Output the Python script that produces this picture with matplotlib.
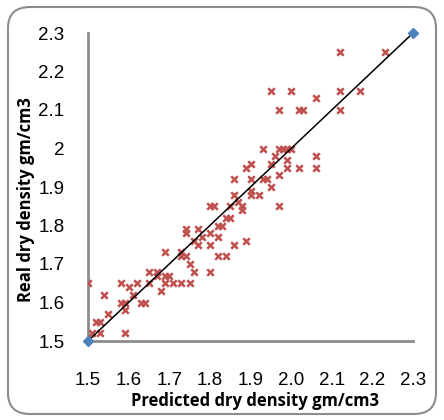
import matplotlib
matplotlib.use("Agg")
import matplotlib.pyplot as plt
from matplotlib.patches import FancyBboxPatch

# Predicted vs. real dry density samples
predicted = [
    1.50, 1.54, 1.58, 1.60, 1.62, 1.61, 1.58, 1.59, 1.63, 1.64,
    1.59, 1.55, 1.52, 1.53, 1.51, 1.53, 1.59, 1.65, 1.65, 1.67,
    1.67, 1.69, 1.70, 1.69, 1.71, 1.73, 1.75, 1.68, 1.69, 1.73,
    1.73, 1.74, 1.82, 1.84, 1.75, 1.76, 1.80, 1.74, 1.74, 1.77,
    1.80, 1.78, 1.76, 1.77, 1.80, 1.86, 1.89, 1.82, 1.82, 1.83,
    1.84, 1.85, 1.80, 1.81, 1.85, 1.88, 1.97, 1.88, 1.87, 1.86,
    1.90, 1.90, 1.92, 1.95, 1.86, 1.90, 1.93, 1.94, 1.97, 1.89,
    1.99, 2.02, 2.06, 1.90, 1.95, 1.99, 1.96, 2.06, 1.93, 1.97,
    1.98, 1.99, 2.00, 1.97, 2.02, 2.03, 2.12, 1.95, 2.00, 2.12,
    2.17, 2.06, 2.12, 2.23,
]
real = [
    1.65, 1.62, 1.65, 1.64, 1.65, 1.62, 1.60, 1.60, 1.60, 1.60,
    1.58, 1.57, 1.55, 1.55, 1.52, 1.52, 1.52, 1.65, 1.68, 1.68,
    1.67, 1.67, 1.67, 1.65, 1.65, 1.65, 1.65, 1.63, 1.73, 1.73,
    1.72, 1.72, 1.72, 1.72, 1.70, 1.68, 1.68, 1.79, 1.78, 1.79,
    1.78, 1.77, 1.76, 1.75, 1.75, 1.75, 1.76, 1.77, 1.80, 1.80,
    1.82, 1.82, 1.85, 1.85, 1.85, 1.85, 1.85, 1.84, 1.86, 1.88,
    1.89, 1.88, 1.88, 1.90, 1.92, 1.92, 1.92, 1.92, 1.93, 1.95,
    1.95, 1.95, 1.95, 1.96, 1.96, 1.97, 1.98, 1.98, 2.00, 2.00,
    2.00, 2.00, 2.00, 2.10, 2.10, 2.10, 2.10, 2.15, 2.15, 2.15,
    2.15, 2.13, 2.25, 2.25,
]

# Line of equality
ref_line = [1.5, 2.3]

x_ticks = [1.5, 1.6, 1.7, 1.8, 1.9, 2.0, 2.1, 2.2, 2.3]
x_tick_labels = ["1.5", "1.6", "1.7", "1.8", "1.9", "2.0", "2.1", "2.2", "2.3"]
y_tick_labels = ["1.5", "1.6", "1.7", "1.8", "1.9", "2", "2.1", "2.2", "2.3"]

plt.rcParams["font.family"] = ["Liberation Sans", "DejaVu Sans"]

fig = plt.figure(figsize=(4.44, 4.20), dpi=100)
ax = fig.add_axes([88 / 444, 1 - 341 / 420, (413 - 88) / 444, (341 - 33) / 420])

# Rounded outer frame
frame = FancyBboxPatch((8 / 444, 6 / 420), 428 / 444, 407 / 420,
                       boxstyle="round,pad=0,rounding_size=0.05",
                       transform=fig.transFigure, facecolor="none",
                       edgecolor="#8c8c8c", linewidth=1.5)
fig.patches.append(frame)

ax.scatter(predicted, real, marker="x", s=22, color="#C0504D",
           linewidths=1.8, zorder=3)
ax.plot(ref_line, ref_line, color="black", linewidth=1.1, marker="D",
        markersize=5, markerfacecolor="#4F81BD", markeredgecolor="#4F81BD",
        clip_on=False, zorder=4)

ax.set_xlim(1.5, 2.3)
ax.set_ylim(1.5, 2.3)
ax.set_xticks(x_ticks)
ax.set_xticklabels(x_tick_labels)
ax.set_yticks(x_ticks)
ax.set_yticklabels(y_tick_labels)
ax.tick_params(axis="both", length=0, labelsize=13.5)
ax.tick_params(axis="x", pad=22)
ax.tick_params(axis="y", pad=17)

for side in ("top", "right"):
    ax.spines[side].set_visible(False)
for side in ("left", "bottom"):
    ax.spines[side].set_color("#8c8c8c")
    ax.spines[side].set_linewidth(2)

ax.set_xlabel("Predicted dry density gm/cm3", fontsize=12, fontweight="bold",
              family=["Open Sans", "DejaVu Sans"])
ax.set_ylabel("Real dry density gm/cm3", fontsize=12, fontweight="bold",
              family=["Open Sans", "DejaVu Sans"])
ax.xaxis.set_label_coords(0.515, -0.195)
ax.yaxis.set_label_coords(-0.19, 0.46)
ax.xaxis.label.set_verticalalignment("center")
ax.yaxis.label.set_verticalalignment("center")

fig.savefig("out.png", dpi=100)
